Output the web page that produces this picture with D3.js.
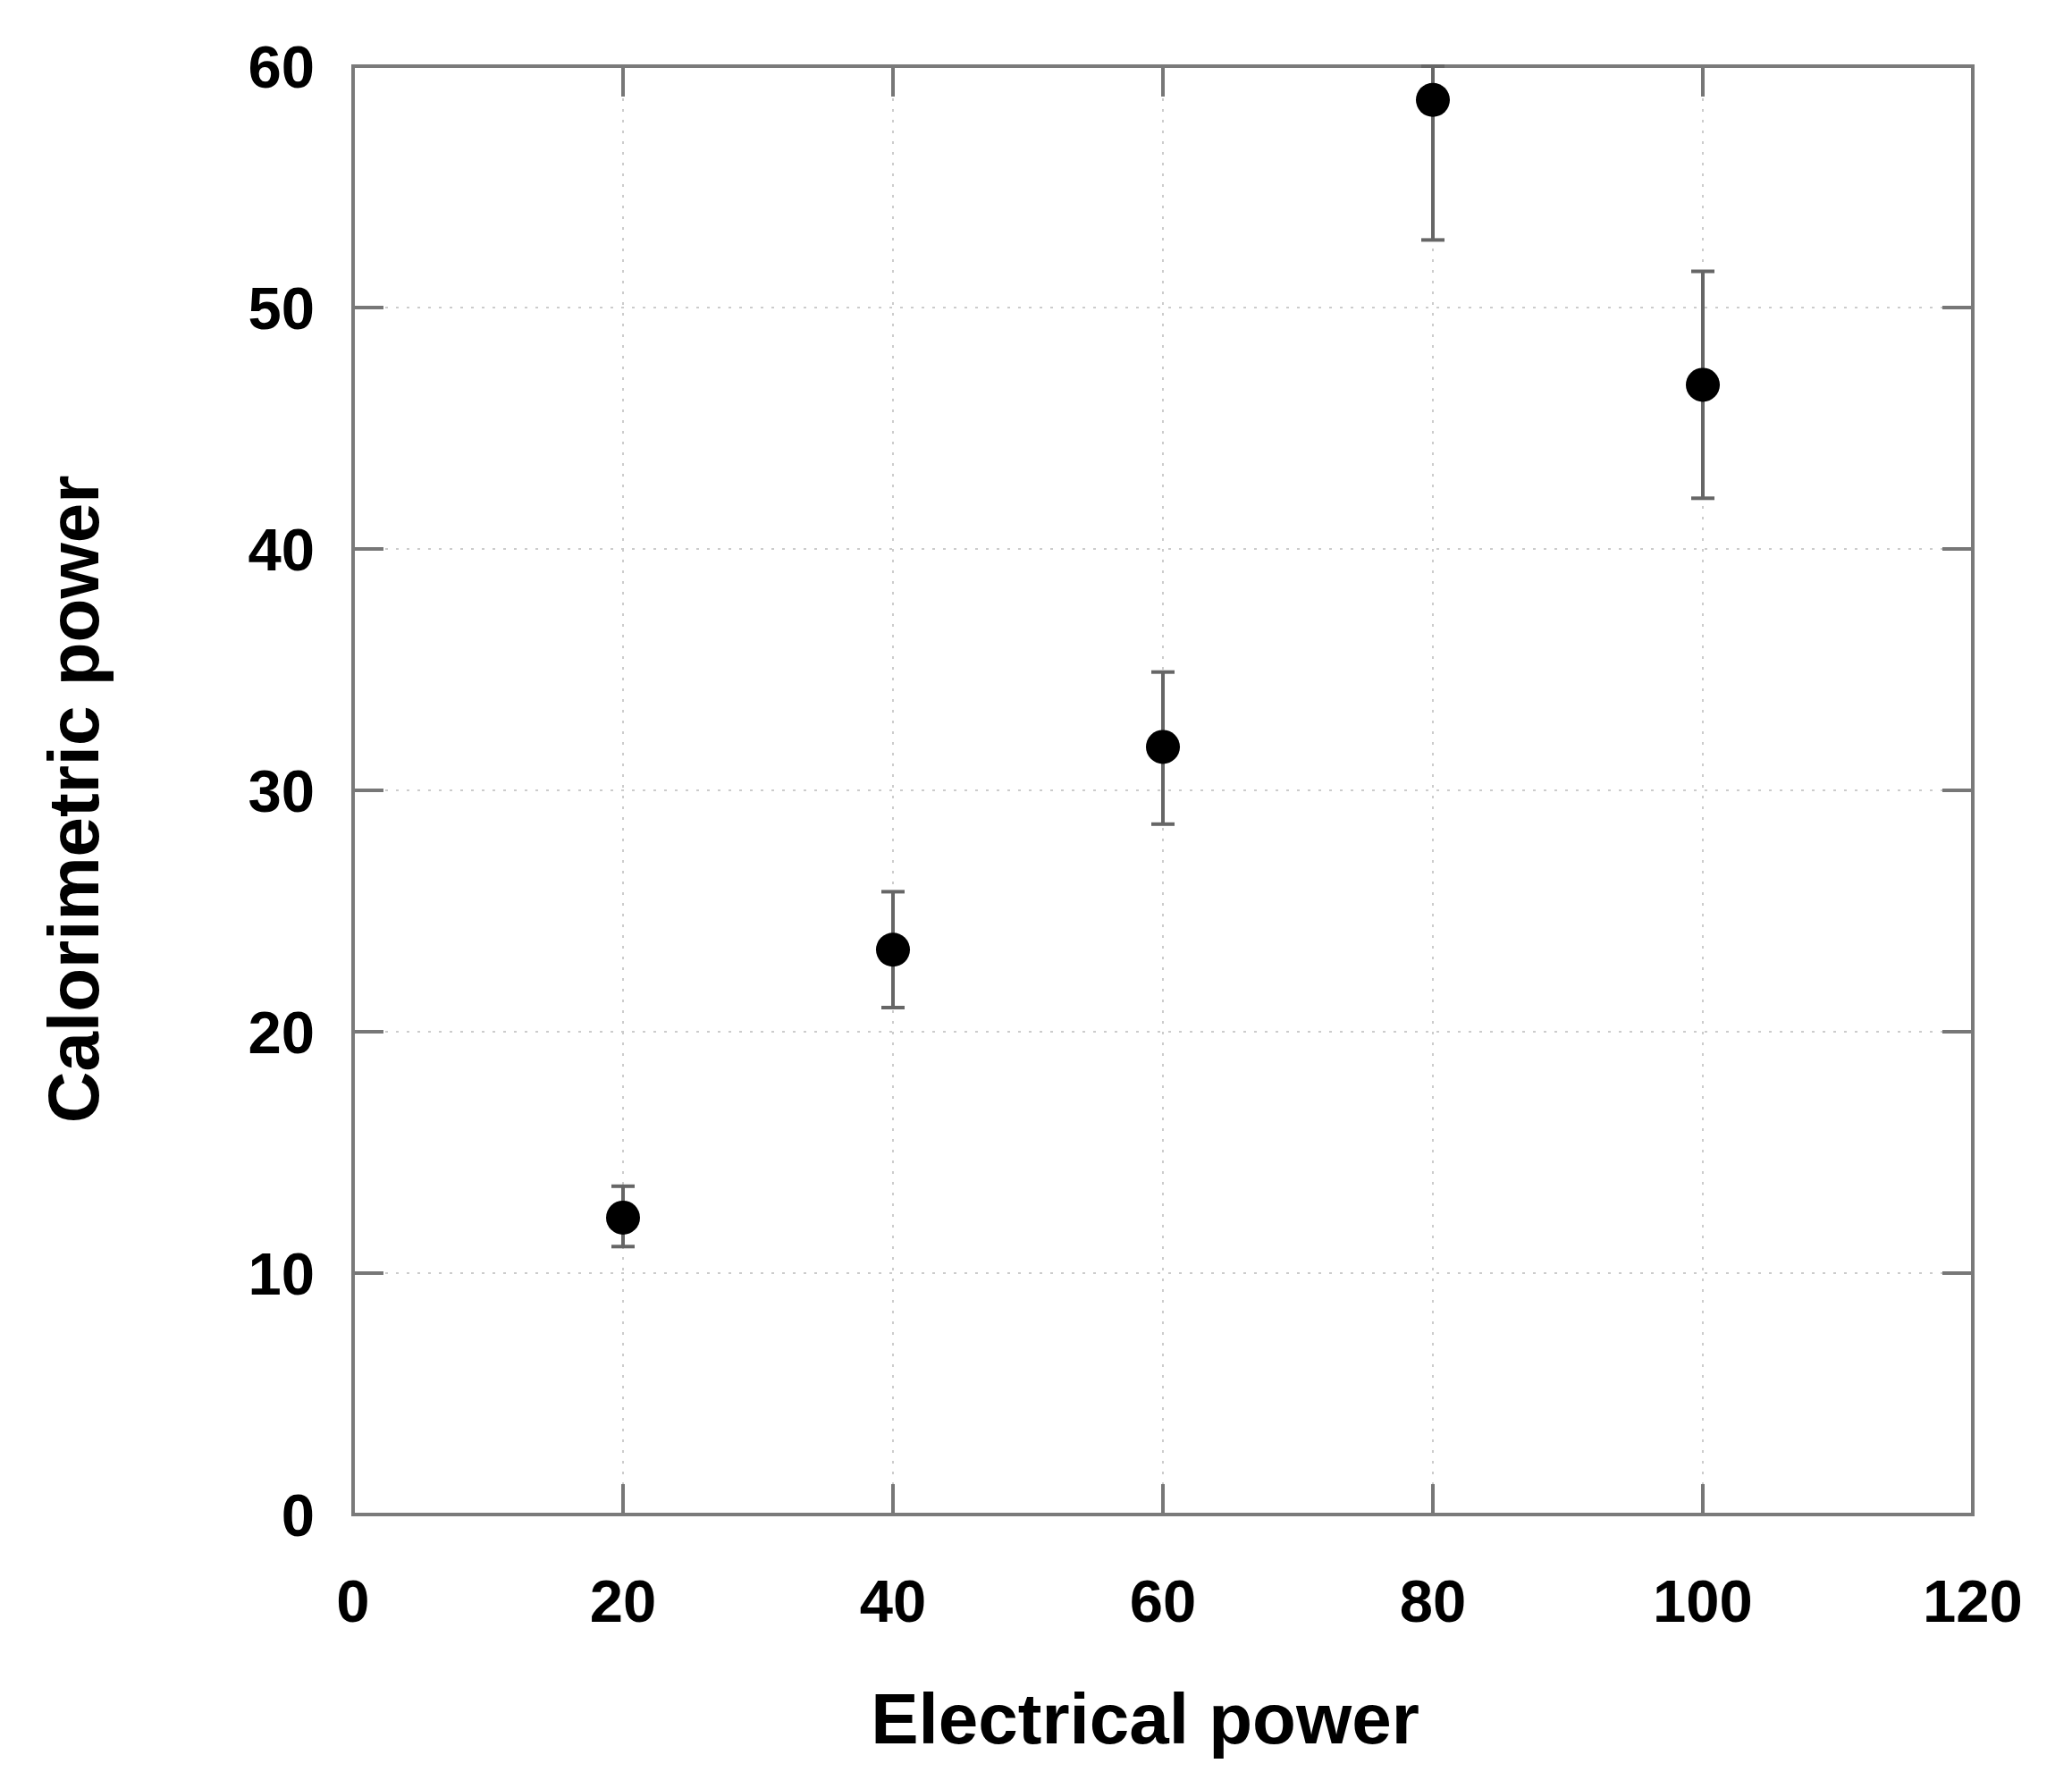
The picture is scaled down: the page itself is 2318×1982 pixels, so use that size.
<!DOCTYPE html>
<html>
<head>
<meta charset="utf-8">
<script src="https://cdn.jsdelivr.net/npm/d3@7"></script>
<style>
body { margin: 0; background: #fff; }
text { font-family: "Liberation Sans", Arial, sans-serif; font-weight: bold; fill: #000; }
</style>
</head>
<body>
<script>
let width = 2318;
let height = 1982;

// data
let electrical = [20, 40, 60, 80, 100];
let calorimetric = [12.3, 23.4, 31.8, 58.6, 46.8];
let errLow = [11.1, 21.0, 28.6, 52.8, 42.1];
let errHigh = [13.6, 25.8, 34.9, 60, 51.5];
let xTicks = [0, 20, 40, 60, 80, 100, 120];
let yTicks = [0, 10, 20, 30, 40, 50, 60];

let margin = {left: 395, right: 2207, top: 74, bottom: 1694};
let tickLen = 34;

let svg = d3.select("body")
    .append("svg")
    .attr("width", width)
    .attr("height", height);

let x = d3.scaleLinear().domain([0, 120]).range([margin.left, margin.right]);
let y = d3.scaleLinear().domain([0, 60]).range([margin.bottom, margin.top]);

// dotted grid
svg.selectAll(".vgrid")
    .data(xTicks.slice(1, -1))
    .enter()
    .append("line")
    .attr("x1", d => x(d)).attr("x2", d => x(d))
    .attr("y1", margin.top).attr("y2", margin.bottom)
    .attr("stroke", "#ccc").attr("stroke-width", 2)
    .attr("stroke-dasharray", "3,9");

svg.selectAll(".hgrid")
    .data(yTicks.slice(1, -1))
    .enter()
    .append("line")
    .attr("y1", d => y(d)).attr("y2", d => y(d))
    .attr("x1", margin.left).attr("x2", margin.right)
    .attr("stroke", "#ccc").attr("stroke-width", 2)
    .attr("stroke-dasharray", "3,9");

// inward ticks on all sides
let tickColor = "#777";
svg.selectAll(".xtb").data(xTicks).enter().append("line")
    .attr("x1", d => x(d)).attr("x2", d => x(d))
    .attr("y1", margin.bottom).attr("y2", margin.bottom - tickLen)
    .attr("stroke", tickColor).attr("stroke-width", 4);
svg.selectAll(".xtt").data(xTicks).enter().append("line")
    .attr("x1", d => x(d)).attr("x2", d => x(d))
    .attr("y1", margin.top).attr("y2", margin.top + tickLen)
    .attr("stroke", tickColor).attr("stroke-width", 4);
svg.selectAll(".ytl").data(yTicks).enter().append("line")
    .attr("y1", d => y(d)).attr("y2", d => y(d))
    .attr("x1", margin.left).attr("x2", margin.left + tickLen)
    .attr("stroke", tickColor).attr("stroke-width", 4);
svg.selectAll(".ytr").data(yTicks).enter().append("line")
    .attr("y1", d => y(d)).attr("y2", d => y(d))
    .attr("x1", margin.right).attr("x2", margin.right - tickLen)
    .attr("stroke", tickColor).attr("stroke-width", 4);

// frame
svg.append("rect")
    .attr("x", margin.left).attr("y", margin.top)
    .attr("width", margin.right - margin.left)
    .attr("height", margin.bottom - margin.top)
    .attr("fill", "none")
    .attr("stroke", "#7a7a7a")
    .attr("stroke-width", 4);

// tick labels
svg.selectAll(".xlab").data(xTicks).enter().append("text")
    .attr("x", d => x(d)).attr("y", 1814)
    .attr("text-anchor", "middle")
    .attr("font-size", 67)
    .text(d => d);
svg.selectAll(".ylab").data(yTicks).enter().append("text")
    .attr("x", 352).attr("y", d => y(d) + 24)
    .attr("text-anchor", "end")
    .attr("font-size", 67)
    .text(d => d);

// axis titles
svg.append("text")
    .attr("x", x(60) - 20).attr("y", 1950)
    .attr("text-anchor", "middle")
    .attr("font-size", 80)
    .text("Electrical power");
svg.append("text")
    .attr("transform", "translate(110," + (y(30) + 10) + ") rotate(-90)")
    .attr("text-anchor", "middle")
    .attr("font-size", 80)
    .text("Calorimetric power");

// error bars
let idx = d3.range(electrical.length);
svg.selectAll(".err").data(idx).enter().append("line")
    .attr("x1", i => x(electrical[i])).attr("x2", i => x(electrical[i]))
    .attr("y1", i => y(errLow[i])).attr("y2", i => y(errHigh[i]))
    .attr("stroke", "#666").attr("stroke-width", 4);
svg.selectAll(".capLo").data(idx).enter().append("line")
    .attr("x1", i => x(electrical[i]) - 13).attr("x2", i => x(electrical[i]) + 13)
    .attr("y1", i => y(errLow[i])).attr("y2", i => y(errLow[i]))
    .attr("stroke", "#666").attr("stroke-width", 4);
svg.selectAll(".capHi").data(idx).enter().append("line")
    .attr("x1", i => x(electrical[i]) - 13).attr("x2", i => x(electrical[i]) + 13)
    .attr("y1", i => y(errHigh[i])).attr("y2", i => y(errHigh[i]))
    .attr("stroke", "#666").attr("stroke-width", 4);

// points
svg.selectAll(".pt").data(idx).enter().append("circle")
    .attr("cx", i => x(electrical[i]))
    .attr("cy", i => y(calorimetric[i]))
    .attr("r", 19)
    .attr("fill", "#000");
</script>
</body>
</html>
